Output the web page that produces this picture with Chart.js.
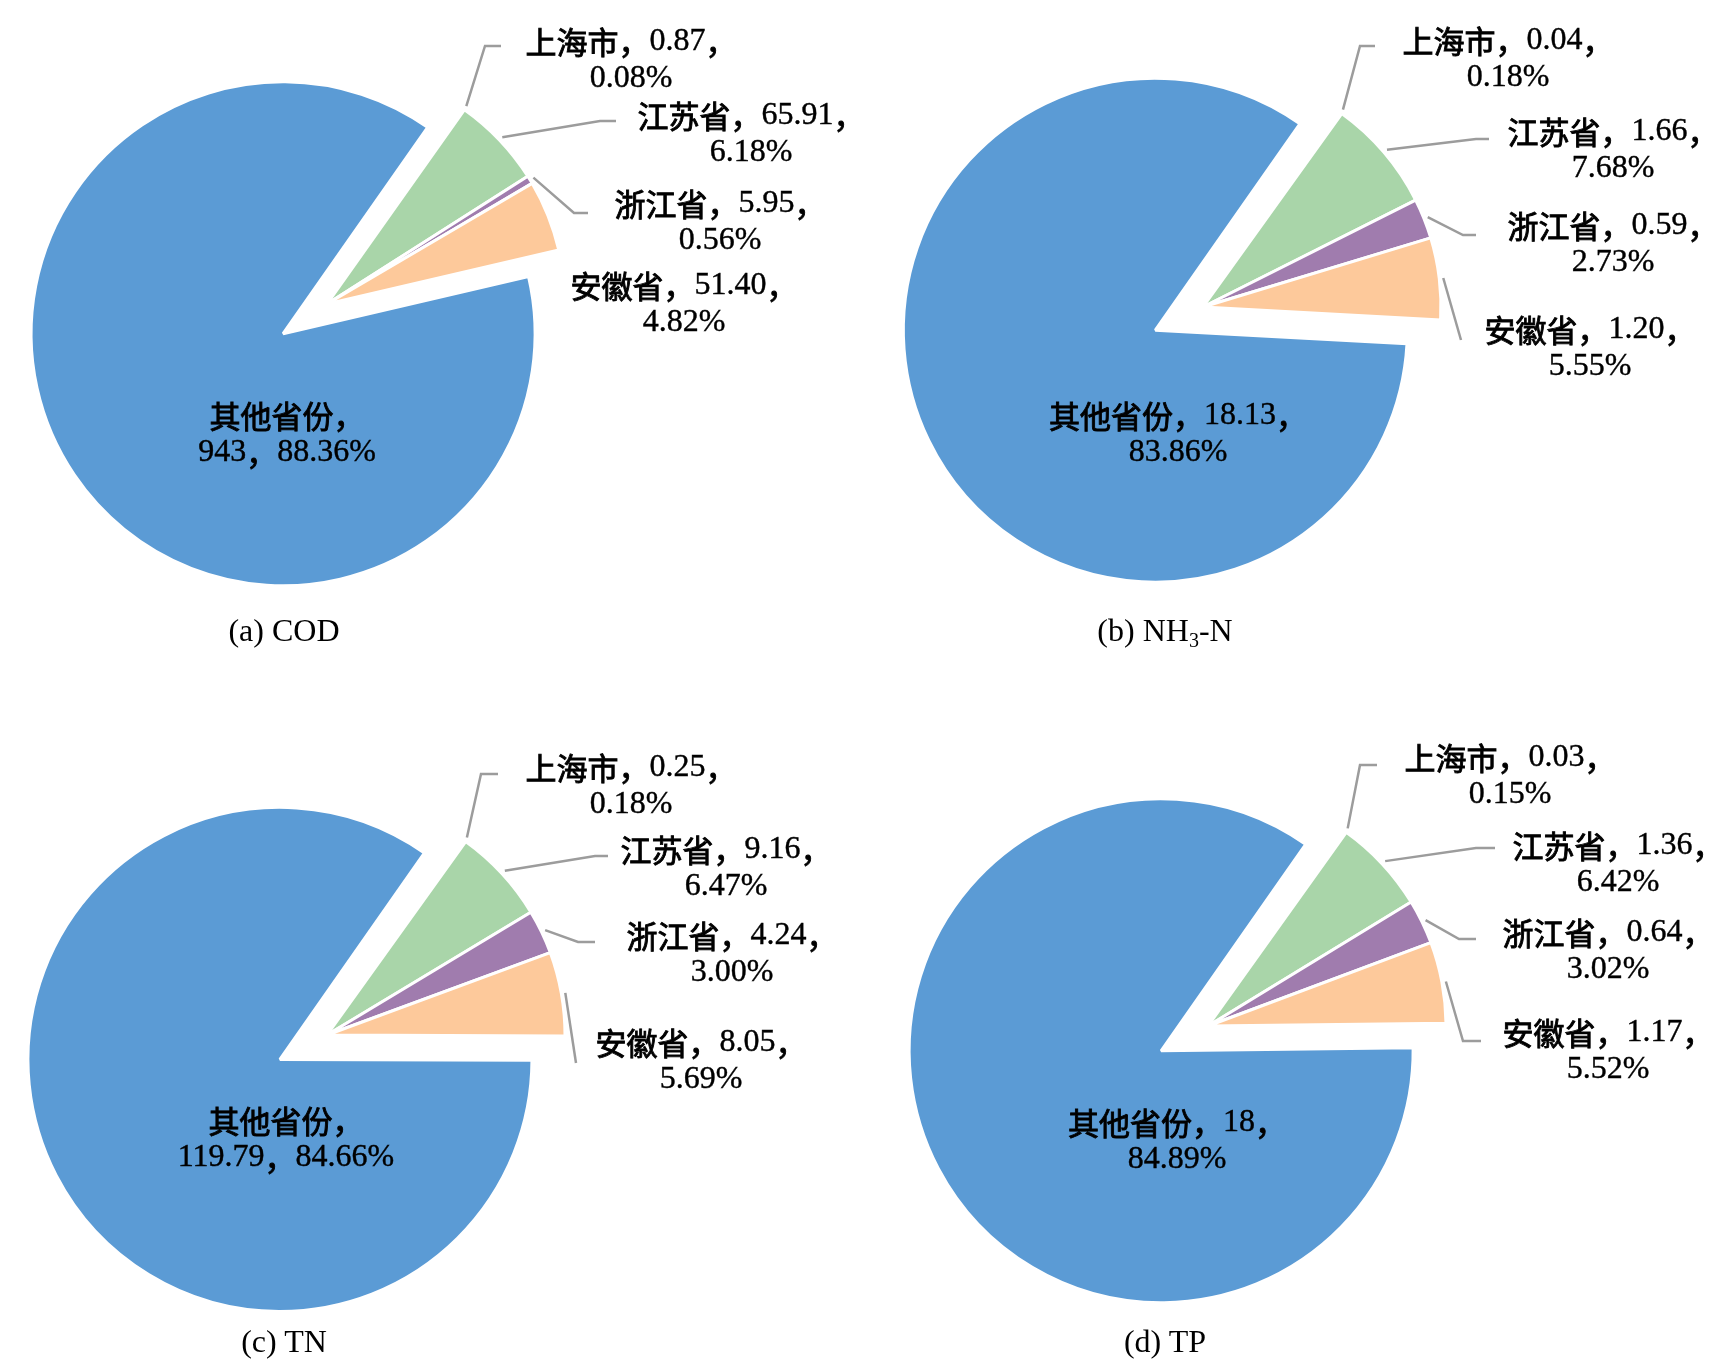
<!DOCTYPE html>
<html>
<head>
<meta charset="utf-8">
<script src="https://cdn.jsdelivr.net/npm/chart.js"></script>
<style>
    body { margin: 0; background: #fff; }
    #page { position: relative; width: 1727px; height: 1369px; overflow: hidden; }
    .box { position: absolute; }
    .caption {
        position: absolute;
        transform: translate(-50%, -50%);
        font: 32px "Liberation Serif", "Times New Roman", serif;
        line-height: 1;
        white-space: nowrap;
        color: #000;
    }
    .caption sub { font-size: 20px; line-height: 0; vertical-align: -6px; }
</style>
</head>
<body>
<div id="page">
    <div class="box" style="left:0;top:0;width:864px;height:684px"><canvas id="chart-cod"></canvas></div>
    <div class="box" style="left:863px;top:0;width:864px;height:684px"><canvas id="chart-nh3n"></canvas></div>
    <div class="box" style="left:0;top:684px;width:864px;height:685px"><canvas id="chart-tn"></canvas></div>
    <div class="box" style="left:863px;top:684px;width:864px;height:685px"><canvas id="chart-tp"></canvas></div>
    <div class="caption" style="left:284px;top:630px">(a) COD</div>
    <div class="caption" style="left:1165px;top:630px">(b) NH<sub>3</sub>-N</div>
    <div class="caption" style="left:284px;top:1341px">(c) TN</div>
    <div class="caption" style="left:1165px;top:1341px">(d) TP</div>
</div>
<script>
const regions = ['上海市', '江苏省', '浙江省', '安徽省', '其他省份'];

const codValues = [0.87, 65.91, 5.95, 51.40, 943];
const codPercent = [0.08, 6.18, 0.56, 4.82, 88.36];

const nh3nValues = [0.04, 1.66, 0.59, 1.20, 18.13];
const nh3nPercent = [0.18, 7.68, 2.73, 5.55, 83.86];

const tnValues = [0.25, 9.16, 4.24, 8.05, 119.79];
const tnPercent = [0.18, 6.47, 3.00, 5.69, 84.66];

const tpValues = [0.03, 1.36, 0.64, 1.17, 18];
const tpPercent = [0.15, 6.42, 3.02, 5.52, 84.89];

const sliceColors = ['#c9c9c9', '#a9d5a9', '#a07cae', '#fdc99b', '#5b9bd5'];
const latinFont = '32px "Liberation Serif"';
const cjkFont = '31px "Noto Sans CJK SC"';
const cjkRe = /[\u3000-\u9fff\uff00-\uffef]/;

const fmt = (v) => (Number.isInteger(v) ? String(v) : v.toFixed(2));

// Chinese runs in the CJK face (slightly thickened), numbers in the serif face
function fillMixed(ctx, text, x, y) {
    const runs = text.match(/[\u3000-\u9fff\uff00-\uffef]+|[^\u3000-\u9fff\uff00-\uffef]+/g);
    const parts = runs.map((t) => {
        const cjk = cjkRe.test(t);
        ctx.font = cjk ? cjkFont : latinFont;
        return { t, cjk, font: ctx.font, w: ctx.measureText(t).width };
    });
    let left = x - parts.reduce((s, p) => s + p.w, 0) / 2;
    ctx.textAlign = 'left';
    ctx.strokeStyle = '#000';
    parts.forEach((p) => {
        ctx.font = p.font;
        ctx.fillText(p.t, left, y);
        ctx.lineWidth = p.cjk ? 0.9 : 0.4;
        ctx.strokeText(p.t, left, y);
        left += p.w;
    });
}

// pull the big slice away from the others, like the exploded Excel pie
const explodeBig = {
    id: 'explodeBig',
    afterDatasetsUpdate(chart, args, opts) {
        const arcs = chart.getDatasetMeta(0).data;
        const big = arcs[arcs.length - 1];
        const mid = (big.startAngle + big.endAngle) / 2;
        big.x += Math.cos(mid) * opts.distance;
        big.y += Math.sin(mid) * opts.distance;
        big.outerRadius += opts.grow;
    },
};

const sliceLabels = {
    id: 'sliceLabels',
    afterDraw(chart, args, opts) {
        const { ctx } = chart;
        const arcs = chart.getDatasetMeta(0).data;
        const values = chart.data.datasets[0].data;
        const cx = arcs[0].x;
        const cy = arcs[0].y;

        ctx.save();
        ctx.strokeStyle = '#9c9c9c';
        ctx.lineWidth = 2.5;
        opts.leaders.forEach((pts, i) => {
            if (!pts) return;
            const arc = arcs[i];
            const mid = (arc.startAngle + arc.endAngle) / 2;
            const r = arc.outerRadius + 4;
            ctx.beginPath();
            ctx.moveTo(arc.x + Math.cos(mid) * r, arc.y + Math.sin(mid) * r);
            pts.forEach(([dx, dy]) => ctx.lineTo(cx + dx, cy + dy));
            ctx.stroke();
        });

        ctx.fillStyle = '#000';
        ctx.textBaseline = 'middle';
        chart.data.labels.forEach((name, i) => {
            const v = fmt(values[i]);
            const p = opts.percents[i].toFixed(2) + '%';
            let lines = [name + '，' + v + '，', p];
            if (i === values.length - 1 && opts.splitOther) {
                lines = [name + '，', v + '，' + p];
            }
            const [dx, dy] = opts.positions[i];
            lines.forEach((t, k) => fillMixed(ctx, t, cx + dx, cy + dy + k * 37));
        });
        ctx.restore();
    },
};

function drawPie(spec) {
    const [bx, by, bw, bh] = spec.box;
    const lx = 2 * (spec.center[0] - bx) - bw;
    const ly = 2 * (spec.center[1] - by) - bh;

    new Chart(document.getElementById(spec.id), {
        type: 'pie',
        data: {
            labels: regions,
            datasets: [
                {
                    data: spec.values,
                    backgroundColor: sliceColors,
                    borderColor: '#fff',
                    borderWidth: 3,
                    radius: 238,
                },
            ],
        },
        options: {
            responsive: true,
            maintainAspectRatio: false,
            animation: false,
            events: [],
            rotation: 35,
            layout: {
                padding: {
                    left: Math.max(lx, 0),
                    right: Math.max(-lx, 0),
                    top: Math.max(ly, 0),
                    bottom: Math.max(-ly, 0),
                },
            },
            plugins: {
                legend: { display: false },
                tooltip: { enabled: false },
                explodeBig: { distance: 53, grow: 14 },
                sliceLabels: {
                    percents: spec.percents,
                    positions: spec.positions,
                    leaders: spec.leaders,
                    splitOther: spec.splitOther,
                },
            },
        },
        plugins: [explodeBig, sliceLabels],
    });
}

drawPie({
    id: 'chart-cod',
    values: codValues,
    percents: codPercent,
    box: [0, 0, 864, 684],
    center: [327, 304],
    positions: [[304, -262], [424, -188], [393, -100], [357, -18], [-40, 112]],
    leaders: [[[158, -258], [174, -258]], [[273, -183], [289, -183]], [[247, -91], [261, -91]], null],
    splitOther: true,
});

drawPie({
    id: 'chart-nh3n',
    values: nh3nValues,
    percents: nh3nPercent,
    box: [863, 0, 864, 684],
    center: [1203, 307],
    positions: [[305, -266], [410, -175], [410, -81], [387, 23], [-25, 109]],
    leaders: [[[157, -261], [172, -261]], [[273, -168], [286, -168]], [[260, -72], [273, -72]], [[258, 33]]],
    splitOther: false,
});

drawPie({
    id: 'chart-tn',
    values: tnValues,
    percents: tnPercent,
    box: [0, 684, 864, 685],
    center: [327, 1035],
    positions: [[304, -267], [399, -185], [405, -99], [374, 8], [-41, 86]],
    leaders: [[[154, -261], [171, -261]], [[268, -179], [281, -179]], [[251, -93], [268, -93]], [[249, 28]]],
    splitOther: true,
});

drawPie({
    id: 'chart-tp',
    values: tpValues,
    percents: tpPercent,
    box: [863, 684, 864, 685],
    center: [1208, 1026],
    positions: [[302, -268], [410, -180], [400, -93], [400, 7], [-31, 97]],
    leaders: [[[152, -261], [169, -261]], [[268, -178], [287, -178]], [[251, -87], [268, -87]], [[255, 15], [273, 15]]],
    splitOther: false,
});
</script>
</body>
</html>
